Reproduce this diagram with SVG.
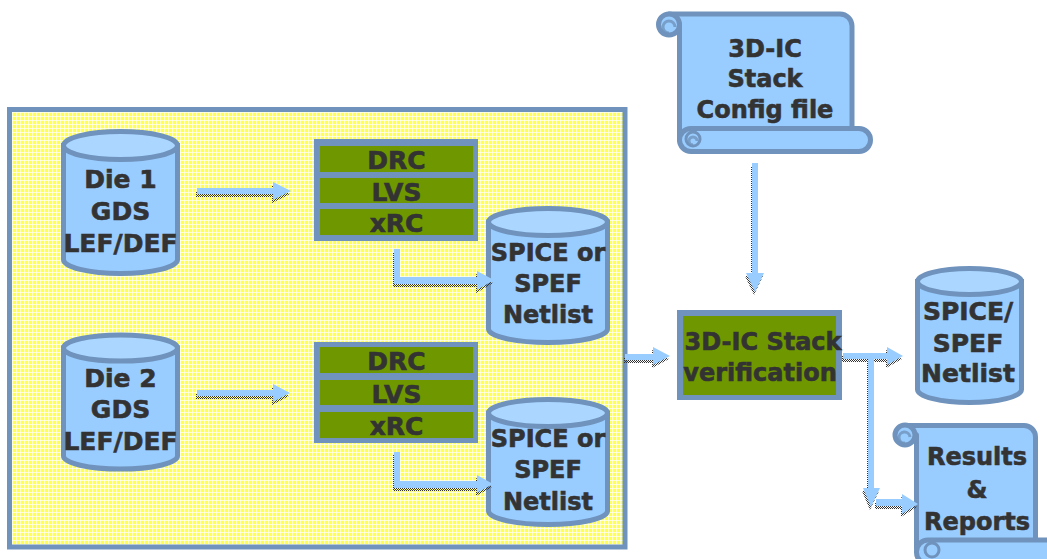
<svg xmlns="http://www.w3.org/2000/svg" width="1047" height="559" viewBox="0 0 1047 559">
<defs>
  <pattern id="grid" width="4" height="4" patternUnits="userSpaceOnUse">
    <rect width="4" height="4" fill="#ffff55"/>
    <rect x="0" y="0" width="4" height="1" fill="#ffffff" opacity="0.7"/>
    <rect x="0" y="0" width="1" height="4" fill="#ffffff" opacity="0.7"/>
  </pattern>
  <pattern id="shadow" width="2" height="2" patternUnits="userSpaceOnUse">
    <rect x="0" y="0" width="1" height="1" fill="#333333"/>
    <rect x="1" y="1" width="1" height="1" fill="#333333"/>
  </pattern>
</defs>
<style>
  .frame { fill: url(#grid); stroke: #6f93bc; stroke-width: 5; }
  .cyl { fill: #99ccff; stroke: #6f93bc; stroke-width: 5; }
  .cyltop { fill: #aad6ff; stroke: #6f93bc; stroke-width: 5; }
  .blk { fill: #6f93bc; }
  .grn { fill: #6e9700; }
  .scroll { fill: #99ccff; stroke: #6f93bc; stroke-width: 5; stroke-linejoin: round; }
  .curl { fill: none; stroke: #6f93bc; stroke-width: 3; opacity: 0.8; }
  .arr { fill: #99ccff; }
  .sh { fill: url(#shadow); }
  text { font-family: "DejaVu Sans", Verdana, sans-serif; font-weight: bold; fill: #333333; stroke: #333333; stroke-width: 0.6; text-anchor: middle; }
  .t25 { font-size: 25px; }
  .t24 { font-size: 24px; }
</style>

<g id="stage-frame">
  <rect class="frame" x="9.5" y="109.5" width="615.5" height="437.5"/>
</g>

<g id="die1">
  <path class="cyl" d="M63.5,145.5 V259.5 A57,14 0 0 0 177.5,259.5 V145.5 Z"/>
  <ellipse class="cyltop" cx="120.5" cy="145.5" rx="57" ry="14"/>
  <text class="t25" x="120.5" y="188">Die 1</text>
  <text class="t25" x="120.5" y="220">GDS</text>
  <text class="t25" x="120.5" y="252">LEF/DEF</text>
</g>

<g id="die2">
  <path class="cyl" d="M63.5,348 V456 A57,13 0 0 0 177.5,456 V348 Z"/>
  <ellipse class="cyltop" cx="120.5" cy="348" rx="57" ry="13"/>
  <text class="t25" x="120.5" y="387">Die 2</text>
  <text class="t25" x="120.5" y="418">GDS</text>
  <text class="t25" x="120.5" y="450">LEF/DEF</text>
</g>

<g id="checks1">
  <rect class="blk" x="314" y="139" width="164" height="102"/>
  <rect class="grn" x="320" y="146" width="153" height="26"/>
  <rect class="grn" x="320" y="178" width="153" height="25"/>
  <rect class="grn" x="320" y="209" width="153" height="26"/>
  <text class="t25" x="396.5" y="169">DRC</text>
  <text class="t25" x="396.5" y="201">LVS</text>
  <text class="t25" x="396.5" y="232">xRC</text>
</g>

<g id="checks2">
  <rect class="blk" x="314" y="342" width="164" height="101"/>
  <rect class="grn" x="320" y="347" width="153" height="26"/>
  <rect class="grn" x="320" y="380" width="153" height="25"/>
  <rect class="grn" x="320" y="412" width="153" height="26"/>
  <text class="t25" x="396.5" y="370">DRC</text>
  <text class="t25" x="396.5" y="403">LVS</text>
  <text class="t25" x="396.5" y="435">xRC</text>
</g>

<g id="netlist1">
  <path class="cyl" d="M488.5,222 V329 A59.5,13.5 0 0 0 607.5,329 V222 Z"/>
  <ellipse class="cyltop" cx="548" cy="222" rx="59.5" ry="13.5"/>
  <text class="t24" x="548" y="261">SPICE or</text>
  <text class="t24" x="548" y="292">SPEF</text>
  <text class="t24" x="548" y="323">Netlist</text>
</g>

<g id="netlist2">
  <path class="cyl" d="M488.5,413 V511 A59.5,13.5 0 0 0 607.5,511 V413 Z"/>
  <ellipse class="cyltop" cx="548" cy="413" rx="59.5" ry="13.5"/>
  <text class="t24" x="548" y="447">SPICE or</text>
  <text class="t24" x="548" y="478">SPEF</text>
  <text class="t24" x="548" y="510">Netlist</text>
</g>

<g id="config">
  <path class="scroll" d="M669,14 H840 A12,12 0 0 1 852,26 V140 H679.5 V24.5 Z"/>
  <circle class="scroll" cx="669" cy="24.5" r="10.5"/>
  <path class="curl" d="M675,27 A6,6 0 1 0 669,33"/>
  <rect class="scroll" x="679.5" y="128.5" width="191" height="23" rx="11.5"/>
  <circle class="scroll" cx="693" cy="139" r="7" style="stroke-width:3"/>
  <path class="curl" d="M697,141 A4,4 0 1 0 693,145"/>
  <text class="t24" x="765" y="57">3D-IC</text>
  <text class="t24" x="765" y="87">Stack</text>
  <text class="t24" x="765" y="118">Config file</text>
</g>

<g id="stack-verification">
  <rect class="blk" x="677" y="310" width="165" height="90"/>
  <rect class="grn" x="683" y="316" width="153" height="79"/>
  <text class="t24" x="763" y="350">3D-IC Stack</text>
  <text class="t24" x="760" y="381">verification</text>
</g>

<g id="netlist-out">
  <path class="cyl" d="M917.5,281.5 V389.5 A52,13 0 0 0 1021.5,389.5 V281.5 Z"/>
  <ellipse class="cyltop" cx="969.5" cy="281.5" rx="52" ry="13"/>
  <text class="t25" x="968" y="320">SPICE/</text>
  <text class="t25" x="968" y="352">SPEF</text>
  <text class="t25" x="968" y="382">Netlist</text>
</g>

<g id="results">
  <path class="scroll" d="M905,425.5 H1024 A11.5,11.5 0 0 1 1035.5,437 V548 H916.5 V435 Z"/>
  <circle class="scroll" cx="905" cy="435" r="10"/>
  <path class="curl" d="M910,437 A5.5,5.5 0 1 0 905,443"/>
  <rect class="scroll" x="916.5" y="540" width="160" height="24" rx="11.5"/>
  <circle class="scroll" cx="932" cy="550" r="7" style="stroke-width:3"/>
  <text class="t24" x="977" y="465">Results</text>
  <text class="t24" x="977" y="498">&amp;</text>
  <text class="t24" x="977" y="530">Reports</text>
</g>

<g id="connectors">
  <g transform="translate(-1,3)">
    <polygon class="sh" points="197,188 273,188 273,182 291,191 273,200 273,194 197,194"/>
    <polygon class="sh" points="197,390 273,390 273,384 290,393 273,402 273,396 197,396"/>
    <polygon class="sh" points="394,249 400,249 400,277 477,277 477,271 494,280 477,290 477,284 394,284"/>
    <polygon class="sh" points="394,452 400,452 400,481 477,481 477,475 493,484 477,493 477,488 394,488"/>
    <polygon class="sh" points="625,354 653,354 653,347 670,356 653,365 653,360 625,360"/>
    <polygon class="sh" points="752,163 758,163 758,273 764,273 755,292 746,273 752,273"/>
    <polygon class="sh" points="843,353 887,353 887,347 903,356 887,365 887,359 843,359"/>
    <polygon class="sh" points="868,356 874,356 874,488 880,488 871,507 863,488 868,488"/>
    <polygon class="sh" points="876,499 902,499 902,494 918,504 902,514 902,506 876,506"/>
  </g>
  <polygon class="arr" points="197,188 273,188 273,182 291,191 273,200 273,194 197,194"/>
  <polygon class="arr" points="197,390 273,390 273,384 290,393 273,402 273,396 197,396"/>
  <polygon class="arr" points="394,249 400,249 400,277 477,277 477,271 494,280 477,290 477,284 394,284"/>
  <polygon class="arr" points="394,452 400,452 400,481 477,481 477,475 493,484 477,493 477,488 394,488"/>
  <polygon class="arr" points="625,354 653,354 653,347 670,356 653,365 653,360 625,360"/>
  <polygon class="arr" points="752,163 758,163 758,273 764,273 755,292 746,273 752,273"/>
  <polygon class="arr" points="843,353 887,353 887,347 903,356 887,365 887,359 843,359"/>
  <polygon class="arr" points="868,356 874,356 874,488 880,488 871,507 863,488 868,488"/>
  <polygon class="arr" points="876,499 902,499 902,494 918,504 902,514 902,506 876,506"/>
</g>
</svg>
